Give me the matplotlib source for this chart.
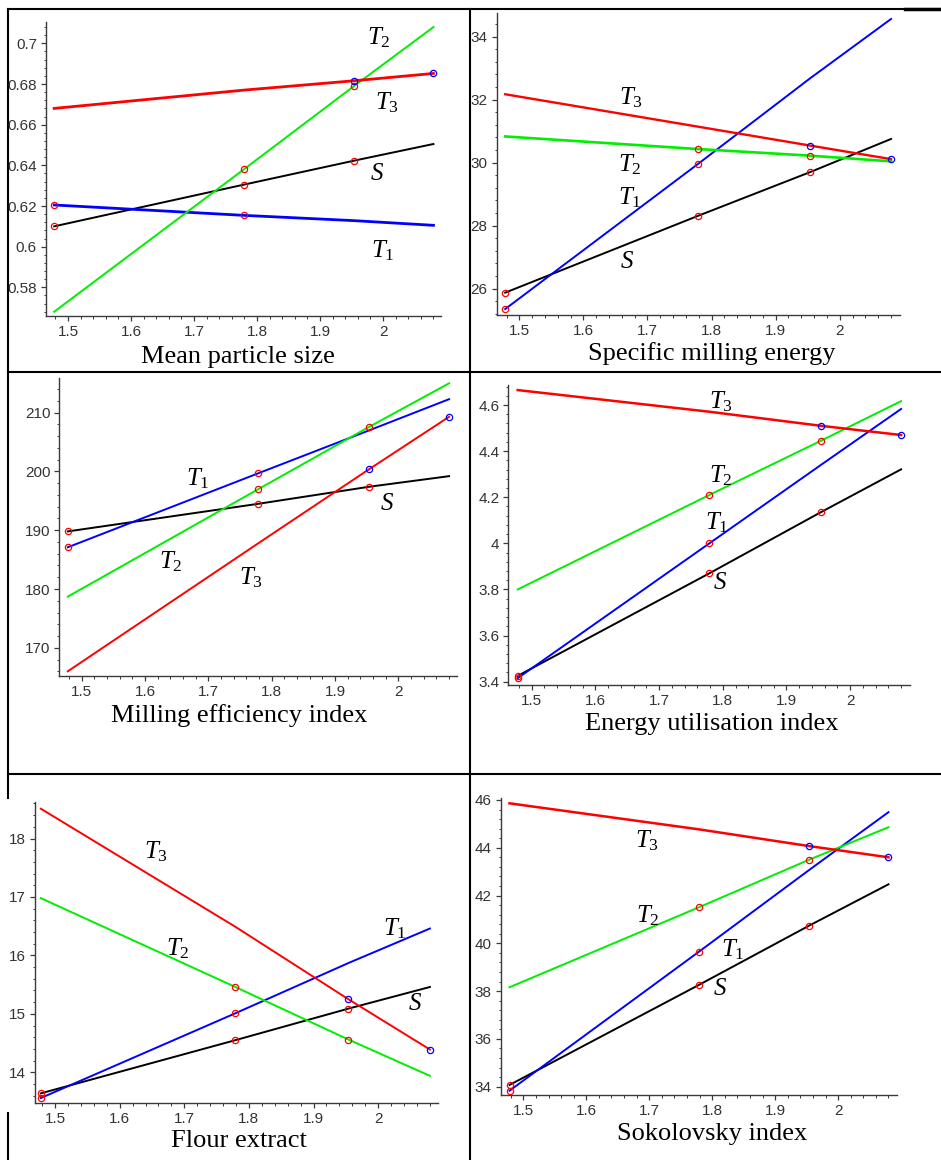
import numpy as np
import matplotlib.pyplot as plt
from matplotlib.ticker import MultipleLocator, AutoMinorLocator, FormatStrFormatter

plt.rcParams['mathtext.fontset'] = 'custom'
plt.rcParams['mathtext.it'] = 'Liberation Serif:italic'
plt.rcParams['mathtext.rm'] = 'Liberation Serif'

# common abscissa (value of the parameter on the x axis)
x_pts = [1.478, 1.779, 1.954, 2.080]

# Mean particle size
mps_S = [0.610, 0.6305, 0.6423, 0.6505]
mps_T1 = [0.6205, 0.6154, 0.6128, 0.6105]
mps_T2 = [0.568, 0.638, 0.679, 0.708]
mps_T3 = [0.668, 0.677, 0.6816, 0.6852]

# Specific milling energy
sme_S = [25.87, 28.31, 29.70, 30.75]
sme_T1 = [25.35, 29.96, 32.68, 34.56]
sme_T2 = [30.83, 30.43, 30.22, 30.04]
sme_T3 = [32.17, 31.14, 30.54, 30.11]

# Milling efficiency index
mei_S = [189.8, 194.5, 197.4, 199.2]
mei_T1 = [187.1, 199.7, 207.0, 212.3]
mei_T2 = [178.7, 197.0, 207.6, 215.0]
mei_T3 = [166.0, 187.8, 200.4, 209.3]

# Energy utilisation index
eui_S = [3.425, 3.87, 4.135, 4.321]
eui_T1 = [3.415, 4.0, 4.34, 4.583]
eui_T2 = [3.80, 4.21, 4.445, 4.617]
eui_T3 = [4.665, 4.571, 4.510, 4.470]

# Flour extract
fe_S = [13.64, 14.55, 15.09, 15.46]
fe_T1 = [13.56, 15.01, 15.87, 16.46]
fe_T2 = [16.98, 15.46, 14.56, 13.94]
fe_T3 = [18.51, 16.49, 15.25, 14.39]

# Sokolovsky index
si_S = [34.07, 38.26, 40.74, 42.47]
si_T1 = [33.83, 39.65, 43.07, 45.49]
si_T2 = [38.16, 41.51, 43.50, 44.86]
si_T3 = [45.86, 44.77, 44.07, 43.60]

W, H = 941, 1160
fig = plt.figure(figsize=(W / 100, H / 100), dpi=100)

# table frame drawn in pixel coordinates
bg = fig.add_axes([0, 0, 1, 1])
bg.set_xlim(0, W)
bg.set_ylim(H, 0)
bg.axis('off')
frame = dict(color='black', lw=1.5)
bg.plot([8, W], [9, 9], **frame)
bg.plot([905, W], [9, 9], color='black', lw=2.5)
bg.plot([8, 8], [9, 798], **frame)
bg.plot([8, 8], [1113, H], **frame)
bg.plot([470, 470], [9, H], **frame)
bg.plot([8, W], [372, 372], **frame)
bg.plot([8, W], [774, 774], **frame)

# which points carry a circle marker, per series
mark_idx = {'S': [0, 1, 2], 'T1': [0, 1], 'T2': [1, 2], 'T3': [2, 3]}
line_col = {'S': 'black', 'T1': '#0000ff', 'T2': '#00ee00', 'T3': '#ff0000'}
mark_col = {'S': '#ff0000', 'T1': '#ff0000', 'T2': '#ff0000', 'T3': '#0000ff'}
tex = {'S': '$S$', 'T1': '$T_1$', 'T2': '$T_2$', 'T3': '$T_3$'}

panels = [
    dict(name='Mean particle size', data={'S': mps_S, 'T1': mps_T1, 'T2': mps_T2, 'T3': mps_T3},
         box=(46, 22, 441, 316), xlim=(1.465, 2.092), ylim=(0.5659, 0.7105), ystep=0.02,
         xlab=(238.3, 363), lw={'T1': 2.0, 'T3': 2.0},
         lab={'T2': (1.994, 0.7026), 'T3': (2.007, 0.671), 'S': (1.99, 0.636), 'T1': (1.999, 0.598)}),
    dict(name='Specific milling energy', data={'S': sme_S, 'T1': sme_T1, 'T2': sme_T2, 'T3': sme_T3},
         box=(496.7, 13, 900, 314.7), xlim=(1.4647, 2.094), ylim=(25.17, 34.75), ystep=2,
         xlab=(711.7, 360), lw={'T2': 1.9, 'T3': 1.7},
         lab={'T3': (1.674, 32.05), 'T2': (1.672, 29.93), 'T1': (1.672, 28.87), 'S': (1.668, 26.86)}),
    dict(name='Milling efficiency index', data={'S': mei_S, 'T1': mei_T1, 'T2': mei_T2, 'T3': mei_T3},
         box=(59.3, 378, 456.7, 676), xlim=(1.4646, 2.092), ylim=(165.2, 215.9), ystep=10,
         xlab=(239.2, 721.7), lw={},
         lab={'T1': (1.683, 198.8), 'T2': (1.641, 184.6), 'T3': (1.768, 182.0), 'S': (1.982, 194.7)}),
    dict(name='Energy utilisation index', data={'S': eui_S, 'T1': eui_T1, 'T2': eui_T2, 'T3': eui_T3},
         box=(508.3, 385, 910, 685.3), xlim=(1.4632, 2.094), ylim=(3.384, 4.687), ystep=0.2,
         xlab=(711.7, 730), lw={'T3': 1.8},
         lab={'T3': (1.797, 4.615), 'T2': (1.797, 4.295), 'T1': (1.790, 4.09), 'S': (1.796, 3.834)}),
    dict(name='Flour extract', data={'S': fe_S, 'T1': fe_T1, 'T2': fe_T2, 'T3': fe_T3},
         box=(35, 801.7, 438.3, 1103.3), xlim=(1.469, 2.093), ylim=(13.47, 18.63), ystep=1,
         xlab=(239, 1146.7), lw={},
         lab={'T3': (1.657, 17.77), 'T2': (1.690, 16.12), 'T1': (2.025, 16.46), 'S': (2.057, 15.18)}),
    dict(name='Sokolovsky index', data={'S': si_S, 'T1': si_T1, 'T2': si_T2, 'T3': si_T3},
         box=(500.7, 798.3, 897.3, 1095), xlim=(1.464, 2.094), ylim=(33.65, 46.07), ystep=2,
         xlab=(711.7, 1140), lw={'T3': 1.8},
         lab={'T3': (1.697, 44.28), 'T2': (1.697, 41.14), 'T1': (1.832, 39.74), 'S': (1.812, 38.12)}),
]

axis_col = '#3a3a3a'

for p in panels:
    l, t, r, b = p['box']
    ax = fig.add_axes([l / W, 1 - b / H, (r - l) / W, (b - t) / H])
    for key in ['S', 'T1', 'T2', 'T3']:
        ys = p['data'][key]
        ax.plot(x_pts, ys, color=line_col[key], lw=p['lw'].get(key, 1.4), zorder=2)
        idx = mark_idx[key]
        ax.plot([x_pts[i] for i in idx], [ys[i] for i in idx], ls='none', marker='o',
                ms=4.5, mfc='none', mec=mark_col[key], mew=0.9, zorder=3)
        lx, ly = p['lab'][key]
        ax.text(lx, ly, tex[key], fontsize=18, ha='center', va='center', zorder=4)
    ax.set_xlim(*p['xlim'])
    ax.set_ylim(*p['ylim'])
    ax.xaxis.set_major_locator(MultipleLocator(0.1))
    ax.xaxis.set_minor_locator(AutoMinorLocator(5))
    ax.yaxis.set_major_locator(MultipleLocator(p['ystep']))
    ax.yaxis.set_minor_locator(AutoMinorLocator(5))
    ax.xaxis.set_major_formatter(FormatStrFormatter('%g'))
    ax.yaxis.set_major_formatter(FormatStrFormatter('%g'))
    for s in ['top', 'right']:
        ax.spines[s].set_visible(False)
    for s in ['left', 'bottom']:
        ax.spines[s].set_color(axis_col)
        ax.spines[s].set_linewidth(1.0)
    ax.tick_params(which='major', direction='out', length=3.5, width=0.9, color=axis_col,
                   labelsize=11, labelcolor='#333333', pad=3)
    ax.tick_params(which='minor', direction='out', length=1.8, width=0.7, color=axis_col)
    for lab in ax.get_xticklabels() + ax.get_yticklabels():
        lab.set_fontfamily('Liberation Sans')
    bg.text(p['xlab'][0], p['xlab'][1], p['name'], fontsize=19, family='Liberation Serif',
            ha='center', va='baseline')

fig.savefig('out.png', dpi=100)
